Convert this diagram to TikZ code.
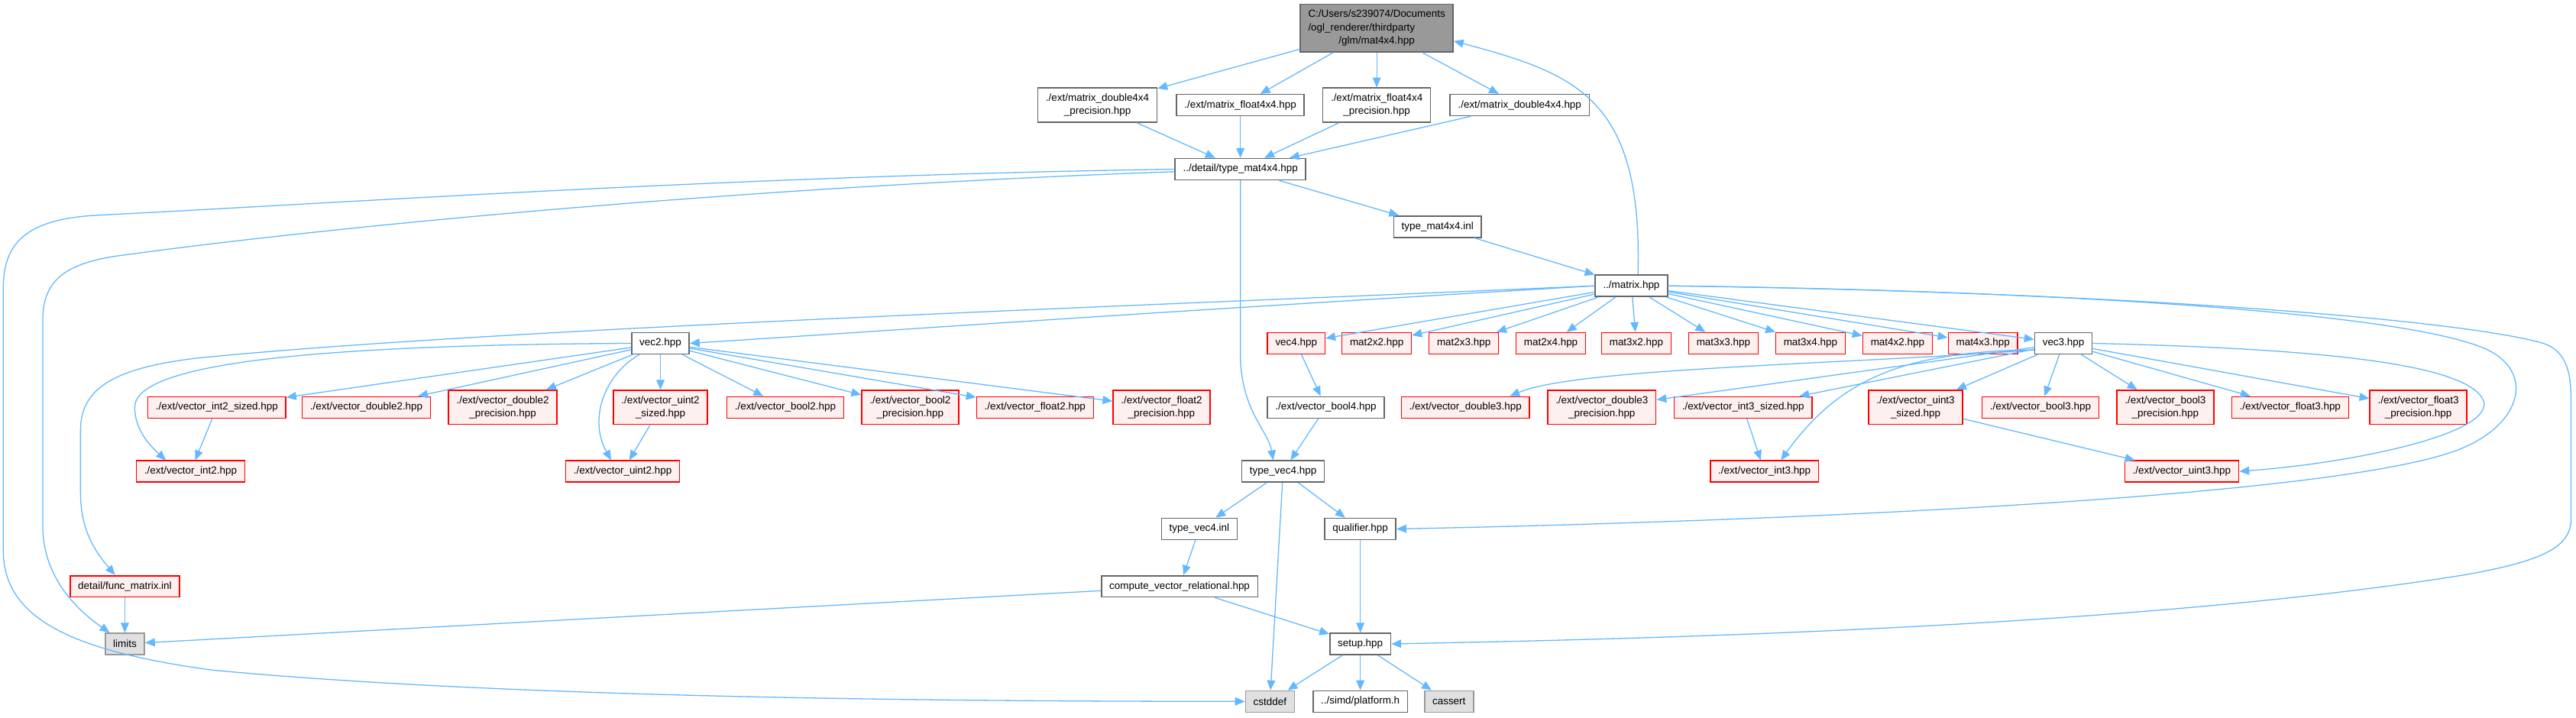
\documentclass[tikz,border=0pt]{standalone}
\usepackage{fontspec}
\setmainfont{Liberation Sans}
\usetikzlibrary{arrows.meta, positioning}
\definecolor{lnk}{HTML}{63B8FF}
\definecolor{gbd}{HTML}{666666}
\definecolor{rbd}{HTML}{FF0000}
\definecolor{rfl}{HTML}{FFF0F0}
\definecolor{xbd}{HTML}{999999}
\definecolor{xfl}{HTML}{E0E0E0}
\definecolor{rtf}{HTML}{999999}
\tikzset{
  hdr/.style   = {rectangle, draw=gbd, fill=white, line width=0.7pt,
                  minimum height=13pt, inner xsep=4.8pt, inner ysep=3.5pt,
                  font=\fontsize{6.25}{8}\selectfont, align=center},
  trunc/.style = {hdr, draw=rbd, fill=rfl},
  sysh/.style  = {hdr, draw=xbd, fill=xfl},
  rootf/.style = {hdr, fill=rtf, inner ysep=2.5pt},
  inc/.style   = {-{Triangle[length=6pt,width=5pt]}, line width=0.6pt, color=lnk},
}

\begin{document}
\begin{tikzpicture}[x=1pt, y=-1pt]
  \useasboundingbox (0,0) rectangle (1568,437);

  \node[rootf] (root) at (838,17)
    {\begin{tabular}{@{}l@{}}C:/Users/s239074/Documents\\/ogl\_renderer/thirdparty\\
     \multicolumn{1}{@{}c@{}}{/glm/mat4x4.hpp}\end{tabular}};
  \node[hdr] (md44p) at (668,64) {./ext/matrix\_double4x4\\\_precision.hpp};
  \node[hdr] (mf44)  at (755,64) {./ext/matrix\_float4x4.hpp};
  \node[hdr] (mf44p) at (838,64) {./ext/matrix\_float4x4\\\_precision.hpp};
  \node[hdr] (md44)  at (925,64) {./ext/matrix\_double4x4.hpp};
  \node[hdr] (tm44)    at (755,103) {../detail/type\_mat4x4.hpp};
  \node[hdr] (tm44inl) at (875,138) {type\_mat4x4.inl};
  \node[hdr] (matrix)  at (993,174) {../matrix.hpp};

  % headers pulled in by matrix.hpp
  \node[hdr]   (vec2) at (402,209)  {vec2.hpp};
  \node[trunc] (vec4) at (789,209)  {vec4.hpp};
  \node[trunc] (m22)  at (838,209)  {mat2x2.hpp};
  \node[trunc] (m23)  at (891,209)  {mat2x3.hpp};
  \node[trunc] (m24)  at (944,209)  {mat2x4.hpp};
  \node[trunc] (m32)  at (996,209)  {mat3x2.hpp};
  \node[trunc] (m33)  at (1049,209) {mat3x3.hpp};
  \node[trunc] (m34)  at (1102,209) {mat3x4.hpp};
  \node[trunc] (m42)  at (1155,209) {mat4x2.hpp};
  \node[trunc] (m43)  at (1207,209) {mat4x3.hpp};
  \node[hdr]   (vec3) at (1256,209) {vec3.hpp};

  \node[trunc] (vi2s) at (132,248)  {./ext/vector\_int2\_sized.hpp};
  \node[trunc] (vd2)  at (223,248)  {./ext/vector\_double2.hpp};
  \node[trunc] (vd2p) at (306,248)  {./ext/vector\_double2\\\_precision.hpp};
  \node[trunc] (vu2s) at (402,248)  {./ext/vector\_uint2\\\_sized.hpp};
  \node[trunc] (vb2)  at (478,248)  {./ext/vector\_bool2.hpp};
  \node[trunc] (vb2p) at (554,248)  {./ext/vector\_bool2\\\_precision.hpp};
  \node[trunc] (vf2)  at (630,248)  {./ext/vector\_float2.hpp};
  \node[trunc] (vf2p) at (707,248)  {./ext/vector\_float2\\\_precision.hpp};
  \node[hdr]   (vb4)  at (807,248)  {./ext/vector\_bool4.hpp};
  \node[trunc] (vd3)  at (892,248)  {./ext/vector\_double3.hpp};
  \node[trunc] (vd3p) at (975,248)  {./ext/vector\_double3\\\_precision.hpp};
  \node[trunc] (vi3s) at (1061,248) {./ext/vector\_int3\_sized.hpp};
  \node[trunc] (vu3s) at (1166,248) {./ext/vector\_uint3\\\_sized.hpp};
  \node[trunc] (vb3)  at (1242,248) {./ext/vector\_bool3.hpp};
  \node[trunc] (vb3p) at (1318,248) {./ext/vector\_bool3\\\_precision.hpp};
  \node[trunc] (vf3)  at (1394,248) {./ext/vector\_float3.hpp};
  \node[trunc] (vf3p) at (1472,248) {./ext/vector\_float3\\\_precision.hpp};

  \node[trunc] (vi2) at (116,287)  {./ext/vector\_int2.hpp};
  \node[trunc] (vu2) at (379,287)  {./ext/vector\_uint2.hpp};
  \node[hdr]   (tv4) at (781,287)  {type\_vec4.hpp};
  \node[trunc] (vi3) at (1074,287) {./ext/vector\_int3.hpp};
  \node[trunc] (vu3) at (1328,287) {./ext/vector\_uint3.hpp};

  \node[hdr]   (tv4inl)   at (730,322) {type\_vec4.inl};
  \node[hdr]   (qual)     at (828,322) {qualifier.hpp};
  \node[trunc] (fmat)     at (76,357)  {detail/func\_matrix.inl};
  \node[hdr]   (cvr)      at (718,357) {compute\_vector\_relational.hpp};
  \node[sysh]  (limits)   at (76,392)  {limits};
  \node[hdr]   (setup)    at (828,392) {setup.hpp};
  \node[sysh]  (cstddef)  at (773,427) {cstddef};
  \node[hdr]   (platform) at (828,427) {../simd/platform.h};
  \node[sysh]  (cassert)  at (882,427) {cassert};

  \draw[inc] (root) -- (md44p);
  \draw[inc] (root) -- (mf44);
  \draw[inc] (root) -- (mf44p);
  \draw[inc] (root) -- (md44);
  \draw[inc] (md44p) -- (tm44);
  \draw[inc] (mf44) -- (tm44);
  \draw[inc] (mf44p) -- (tm44);
  \draw[inc] (md44) -- (tm44);
  \draw[inc] (tm44) -- (tm44inl);
  \draw[inc] (tm44inl) -- (matrix);

  % type_mat4x4 round the left side
  \draw[inc] (tm44.west) .. controls (450,107) and (200,124) .. (60,131)
    .. controls (20,133) and (2,145) .. (2,175) -- (2,335)
    .. controls (2,375) and (40,396) .. (130,408)
    .. controls (300,424) and (550,427) .. (cstddef.west);
  \draw[inc] ([yshift=-1.5pt]tm44.west) .. controls (450,114) and (200,138) .. (70,156)
    .. controls (38,161) and (26,172) .. (26,195) -- (26,320)
    .. controls (26,350) and (45,370) .. ([xshift=3pt]limits.north west);
  \draw[inc] (tm44.south) -- (755,215) .. controls (755,250) and (772,262)
    .. ([xshift=-6pt]tv4.north);

  % back edge to the file itself
  \draw[inc] ([xshift=4pt]matrix.north) .. controls (1000,60) and (960,45)
    .. ([yshift=-8pt]root.east);

  \draw[inc] (matrix.west) .. controls (700,190) and (500,204) .. (vec2.east);
  \draw[inc] (matrix.west) .. controls (700,186) and (300,200) .. (120,218)
    .. controls (70,224) and (49,236) .. (49,262) -- (49,300)
    .. controls (49,325) and (60,338) .. ([xshift=-6pt]fmat.north);
  \draw[inc] (matrix) -- (vec4);
  \draw[inc] (matrix) -- (m22);
  \draw[inc] (matrix) -- (m23);
  \draw[inc] (matrix) -- (m24);
  \draw[inc] (matrix) -- (m32);
  \draw[inc] (matrix) -- (m33);
  \draw[inc] (matrix) -- (m34);
  \draw[inc] (matrix) -- (m42);
  \draw[inc] (matrix) -- (m43);
  \draw[inc] (matrix) -- (vec3);

  % right hand loops
  \draw[inc] (matrix.east) .. controls (1250,177) and (1460,190) .. (1512,212)
    .. controls (1545,226) and (1535,262) .. (1490,276)
    .. controls (1400,305) and (1050,318) .. (qual.east);
  \draw[inc] (matrix.east) .. controls (1300,178) and (1500,195) .. (1548,209)
    .. controls (1563,214) and (1565,228) .. (1565,245) -- (1565,316)
    .. controls (1565,334) and (1545,342) .. (1500,350)
    .. controls (1300,382) and (1000,389) .. (setup.east);

  \draw[inc] (vec2) -- (vi2s);
  \draw[inc] (vec2) -- (vd2);
  \draw[inc] (vec2) -- (vd2p);
  \draw[inc] (vec2) -- (vu2s);
  \draw[inc] (vec2) -- (vb2);
  \draw[inc] (vec2) -- (vb2p);
  \draw[inc] (vec2) -- (vf2);
  \draw[inc] (vec2) -- (vf2p);
  \draw[inc] (vec2.west) .. controls (200,210) and (82,220) .. (82,248)
    .. controls (82,262) and (92,272) .. ([xshift=-15pt]vi2.north);
  \draw[inc] ([xshift=5pt]vec2.south west) .. controls (368,228) and (358,255)
    .. ([xshift=-7pt]vu2.north);
  \draw[inc] (vi2s) -- (vi2);
  \draw[inc] (vu2s) -- (vu2);

  \draw[inc] ([yshift=-4pt]vec3.west) .. controls (1120,222) and (960,224)
    .. ([xshift=27pt]vd3.north);
  \draw[inc] (vec3) -- (vd3p);
  \draw[inc] (vec3) -- (vi3s);
  \draw[inc] ([yshift=-4pt]vec3.west) .. controls (1160,214) and (1120,230)
    .. ([xshift=10pt]vi3.north);
  \draw[inc] (vec3) -- (vu3s);
  \draw[inc] (vec3) -- (vb3);
  \draw[inc] (vec3) -- (vb3p);
  \draw[inc] (vec3) -- (vf3);
  \draw[inc] (vec3) -- (vf3p);
  \draw[inc] (vec3.east) .. controls (1400,212) and (1505,220) .. (1512,245)
    .. controls (1515,265) and (1430,282) .. (vu3.east);
  \draw[inc] (vi3s) -- (vi3);
  \draw[inc] (vu3s) -- (vu3);

  \draw[inc] (vec4) -- (vb4);
  \draw[inc] (vb4) -- (tv4);
  \draw[inc] (tv4) -- (tv4inl);
  \draw[inc] (tv4) -- (qual);
  \draw[inc] (tv4) -- (cstddef);
  \draw[inc] (tv4inl) -- (cvr);
  \draw[inc] (cvr) -- (limits);
  \draw[inc] (cvr) -- (setup);
  \draw[inc] (qual) -- (setup);
  \draw[inc] (fmat) -- (limits);
  \draw[inc] (setup) -- (cstddef);
  \draw[inc] (setup) -- (platform);
  \draw[inc] (setup) -- (cassert);

\end{tikzpicture}
\end{document}
